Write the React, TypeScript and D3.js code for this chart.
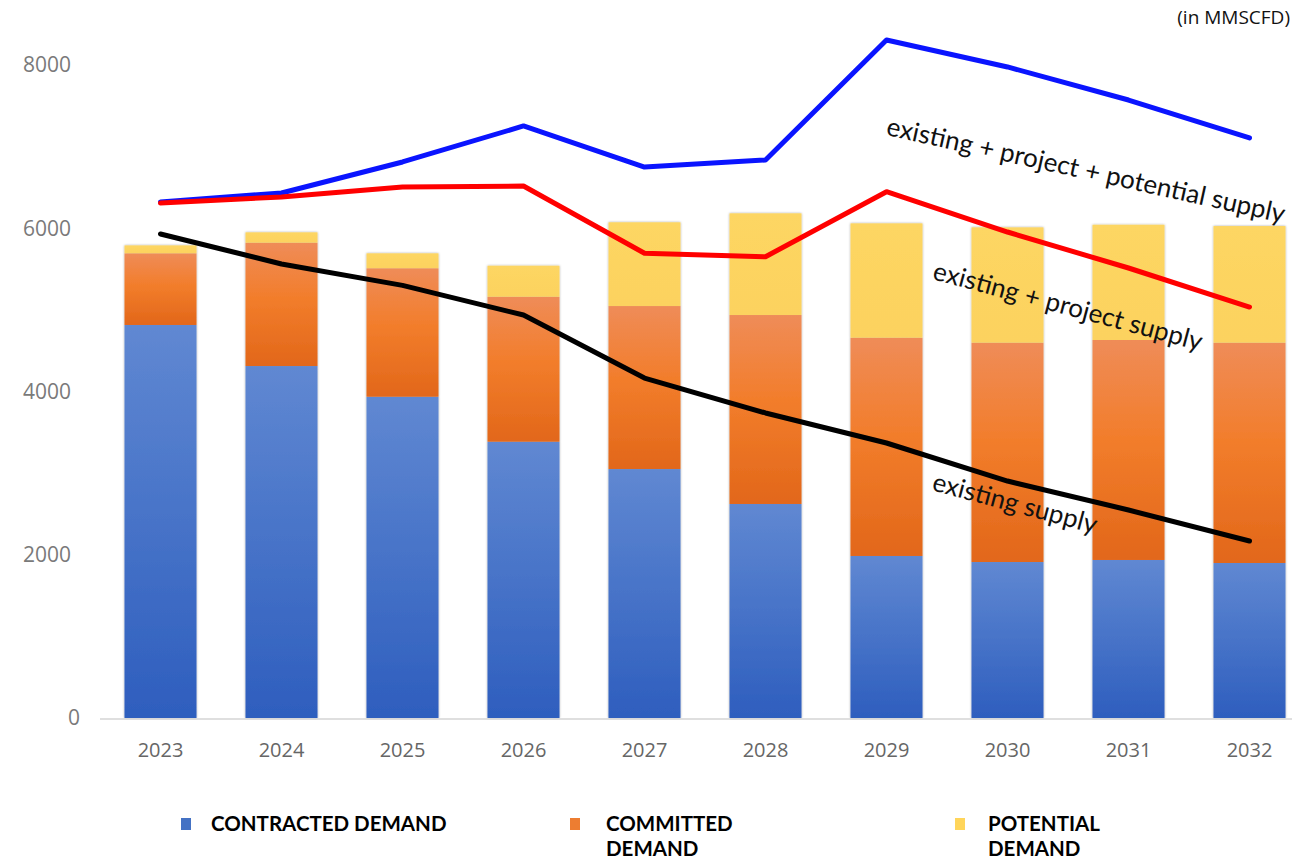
import React from "react";
import * as d3 from "d3";

const years = ["2023", "2024", "2025", "2026", "2027", "2028", "2029", "2030", "2031", "2032"];
const contracted = [4815, 4312, 3936, 3385, 3050, 2622, 1985, 1911, 1936, 1899];
const committedTop = [5693, 5823, 5510, 5161, 5047, 4937, 4659, 4598, 4631, 4598];
const potentialTop = [5790, 5950, 5693, 5541, 6073, 6183, 6060, 6011, 6043, 6027];
const supplyAll = [6322, 6432, 6812, 7253, 6750, 6836, 8306, 7976, 7571, 7106];
const supplyProject = [6309, 6383, 6505, 6517, 5693, 5651, 6448, 5954, 5513, 5035];
const supplyExisting = [5930, 5562, 5300, 4937, 4165, 3737, 3369, 2903, 2548, 2168];
const yTicks = [0, 2000, 4000, 6000, 8000];

const W = 1294, H = 861;

export default function App() {
  const x = d3.scaleBand<string>().domain(years).range([100, 1310]).paddingInner(0.405).paddingOuter(0.2025);
  const y = d3.scaleLinear().domain([0, 8000]).range([718, 65]);
  const cx = (i: number) => (x(years[i]) as number) + x.bandwidth() / 2;
  const line = d3.line<number>().x((_, i) => cx(i)).y((d) => y(d));
  const font = "Lato, 'Open Sans', sans-serif";
  const tickFont = "'Open Sans', Lato, sans-serif";

  const segs = years.map((yr, i) => [
    { lo: 0, hi: contracted[i], fill: "url(#gBlue)" },
    { lo: contracted[i], hi: committedTop[i], fill: "url(#gOrange)" },
    { lo: committedTop[i], hi: potentialTop[i], fill: "url(#gYellow)" },
  ]);

  return (
    <svg width={W} height={H} style={{ position: "absolute", left: 0, top: 0, background: "#fff" }}>
      <defs>
        <linearGradient id="gBlue" x1="0" y1="0" x2="0" y2="1">
          <stop offset="0" stopColor="#6088d2" />
          <stop offset="1" stopColor="#2e5ebe" />
        </linearGradient>
        <linearGradient id="gOrange" x1="0" y1="0" x2="0" y2="1">
          <stop offset="0" stopColor="#ef8c58" />
          <stop offset="0.45" stopColor="#f27d2b" />
          <stop offset="1" stopColor="#e2671a" />
        </linearGradient>
        <linearGradient id="gYellow" x1="0" y1="0" x2="0" y2="1">
          <stop offset="0" stopColor="#fdd663" />
          <stop offset="1" stopColor="#fcd25e" />
        </linearGradient>
        <filter id="sh" x="-10%" y="-10%" width="120%" height="120%">
          <feDropShadow dx="0" dy="0" stdDeviation="1.2" floodColor="#000" floodOpacity="0.35" />
        </filter>
      </defs>

      <text x={1290} y={24} textAnchor="end" fontFamily={tickFont} fontSize={19} fill="#111">(in MMSCFD)</text>

      {yTicks.map((t) => (
        <text key={t} x={t === 0 ? 80 : 71} y={y(t)} dy="0.35em" textAnchor="end" fontFamily={tickFont} fontSize={21} fill="#7a7a7a">
          {t}
        </text>
      ))}

      {segs.map((ss, i) => (
        <g key={years[i]} filter="url(#sh)">
          {ss.map((s, j) => (
            <rect key={j} x={x(years[i])} y={y(s.hi)} width={x.bandwidth()} height={y(s.lo) - y(s.hi)} fill={s.fill} />
          ))}
        </g>
      ))}

      <line x1={100} x2={1292} y1={719} y2={719} stroke="#d4d4d4" strokeWidth={1.5} />

      {years.map((yr, i) => (
        <text key={yr} x={cx(i)} y={750} dy="0.35em" textAnchor="middle" fontFamily={tickFont} fontSize={20} fill="#666">
          {yr}
        </text>
      ))}

      <path d={line(supplyAll) || ""} fill="none" stroke="#0a14ff" strokeWidth={5} strokeLinejoin="round" strokeLinecap="round" />
      <path d={line(supplyProject) || ""} fill="none" stroke="#ff0000" strokeWidth={5} strokeLinejoin="round" strokeLinecap="round" />
      <path d={line(supplyExisting) || ""} fill="none" stroke="#000" strokeWidth={5} strokeLinejoin="round" strokeLinecap="round" />

      <text transform="translate(1086,170) rotate(12.5)" textAnchor="middle" dy="0.35em" fontFamily={font} fontSize={26} fill="#111">
        existing + project + potential supply
      </text>
      <text transform="translate(1068,306) rotate(15)" textAnchor="middle" dy="0.35em" fontFamily={font} fontSize={26} fill="#111">
        existing + project supply
      </text>
      <text transform="translate(1015,503) rotate(15)" textAnchor="middle" dy="0.35em" fontFamily={font} fontSize={26} fill="#111">
        existing supply
      </text>

      <g fontFamily={font} fontSize={20.5} fontWeight="bold" fill="#000">
        <rect x={181} y={818} width={10} height={12} fill="#4472c4" />
        <text x={211} y={831}>CONTRACTED DEMAND</text>
        <rect x={570} y={818} width={10} height={12} fill="#ed7d31" />
        <text x={606} y={831}>COMMITTED</text>
        <text x={606} y={856}>DEMAND</text>
        <rect x={955} y={818} width={10} height={12} fill="#ffd55a" />
        <text x={988} y={831}>POTENTIAL</text>
        <text x={988} y={856}>DEMAND</text>
      </g>
    </svg>
  );
}
